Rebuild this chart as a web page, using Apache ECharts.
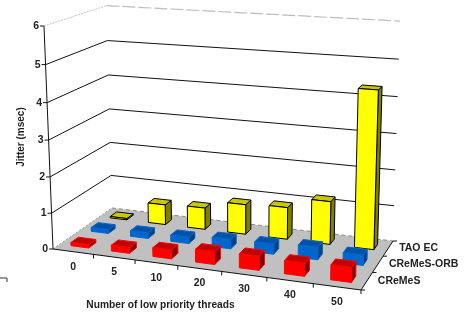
<!DOCTYPE html>
<html>
<head>
<meta charset="utf-8">
<style>html,body{margin:0;padding:0;background:#fff}#c{width:474px;height:320px}</style>
<script src="https://cdn.jsdelivr.net/npm/echarts@6/dist/echarts.min.js"></script>
</head>
<body>
<div id="c"></div>
<script>
// Jitter per thread load, three event services.
const threads = ['0', '5', '10', '20', '30', '40', '50'];
const services = ['CReMeS', 'CReMeS-ORB', 'TAO EC'];
const cremes = [0.09, 0.16, 0.24, 0.35, 0.38, 0.35, 0.39];
const cremesOrb = [0.11, 0.16, 0.18, 0.26, 0.28, 0.34, 0.28];
const taoEc = [0.04, 0.58, 0.62, 0.85, 0.9, 1.2, 4.33];
const jitterTicks = [0, 1, 2, 3, 4, 5, 6];
const jitterMax = 6;

const W = 474, H = 320;

// Perspective camera: floor corners and the point where verticals converge.
const floor = { fl: [53, 249], fr: [361, 290], br: [393, 241], bl: [112, 208] };
const vanish = [242.6, 4941];
const ceilingFL = 26;

function floorHomography(q) {
  const dx1 = q.fr[0] - q.br[0], dx2 = q.bl[0] - q.br[0];
  const dy1 = q.fr[1] - q.br[1], dy2 = q.bl[1] - q.br[1];
  const sx = q.fl[0] - q.fr[0] + q.br[0] - q.bl[0];
  const sy = q.fl[1] - q.fr[1] + q.br[1] - q.bl[1];
  const d = dx1 * dy2 - dx2 * dy1;
  const g = (sx * dy2 - dx2 * sy) / d;
  const h = (dx1 * sy - sx * dy1) / d;
  return [
    q.fr[0] - q.fl[0] + g * q.fr[0], q.bl[0] - q.fl[0] + h * q.bl[0], q.fl[0],
    q.fr[1] - q.fl[1] + g * q.fr[1], q.bl[1] - q.fl[1] + h * q.bl[1], q.fl[1],
    g, h, 1
  ];
}
const M = floorHomography(floor);
const k = (ceilingFL - floor.fl[1]) / (jitterMax * (vanish[1] - ceilingFL));

function project(u, v, z) {
  const w = M[6] * u + M[7] * v + 1 + z * k;
  return [
    (M[0] * u + M[1] * v + M[2] + z * k * vanish[0]) / w,
    (M[3] * u + M[4] * v + M[5] + z * k * vanish[1]) / w
  ];
}

const poly = (points, style) => ({ type: 'polygon', shape: { points }, style });
const line = (a, b, stroke, lineWidth, lineDash) => ({
  type: 'line',
  shape: { x1: a[0], y1: a[1], x2: b[0], y2: b[1] },
  style: { stroke, lineWidth: lineWidth || 1, lineDash: lineDash || null, fill: null }
});
const text = (s, x, y, align, size) => ({
  type: 'text',
  style: {
    text: s, x, y, fill: '#222',
    font: 'bold ' + (size || 10.5) + 'px "Liberation Sans", Arial, sans-serif',
    textAlign: align, textVerticalAlign: 'middle'
  }
});

// Box for one bar: the hidden cartesian axes supply u and height, depth comes from the row.
function boxRenderer(row, colors) {
  return function (params, api) {
    const c = api.coord([api.value(0), api.value(1)]);
    const band = api.size([1, 0])[0] / W;
    const u = c[0] / W;
    const z = jitterMax * (H - c[1]) / H;
    const v = (row + 0.5) / 3;
    const hu = band * 0.22, hv = 0.06;
    const p = (a, b, h) => project(u + a * hu, v + b * hv, h);
    const edge = { stroke: colors.edge, lineWidth: 1, lineJoin: 'round' };
    return {
      type: 'group',
      children: [
        poly([p(1, -1, 0), p(1, 1, 0), p(1, 1, z), p(1, -1, z)], { fill: colors.side, ...edge }),
        poly([p(-1, -1, z), p(1, -1, z), p(1, 1, z), p(-1, 1, z)], { fill: colors.top, ...edge }),
        poly([p(-1, -1, 0), p(1, -1, 0), p(1, -1, z), p(-1, -1, z)], { fill: colors.front, ...edge })
      ]
    };
  };
}

// Floor, back walls and value gridlines with their tick labels.
function frameRenderer(params, api) {
  const c = api.coord([0, api.value(0)]);
  const z = jitterMax * (H - c[1]) / H;
  const a = project(0, 0, z), b = project(0, 1, z), d = project(1, 1, z);
  const children = [];
  if (z === 0) {
    children.push(poly([project(0, 0, 0), project(1, 0, 0), project(1, 1, 0), project(0, 1, 0)], { fill: '#c0c0c0' }));
    children.push(line(a, b, '#999', 1, [2, 2]));
    children.push(line(b, d, '#8a8a8a', 1, [4, 3]));
  } else if (z === jitterMax) {
    children.push(line(a, b, '#c4c4c4', 1, [2, 1]));
    children.push(line(b, d, '#bdbdbd', 1.2, [13, 3]));
  } else {
    children.push(line(a, b, '#111'));
    children.push(line(b, d, '#111'));
  }
  children.push(line([a[0] - 4, a[1]], a, '#111'));
  children.push(text(String(api.value(0)), a[0] - 5, a[1], 'right'));
  return { type: 'group', children };
}

// Front edge ticks and category labels.
function threadAxisRenderer(params, api) {
  const c = api.coord([api.value(0), 0]);
  const band = api.size([1, 0])[0] / W;
  const u = c[0] / W;
  const lab = project(u, 0, 0);
  const t = project(u + band / 2, 0, 0);
  return {
    type: 'group',
    children: [
      line(t, [t[0], t[1] + 4], '#111'),
      text(threads[api.value(0)], lab[0], lab[1] + 15, 'center')
    ]
  };
}

// Right edge ticks and service names.
function serviceAxisRenderer(params, api) {
  const row = api.value(0);
  const v = (row + 0.5) / 3;
  const lab = project(1, v, 0);
  const t = project(1, row / 3, 0);
  return {
    type: 'group',
    children: [
      line(t, [t[0] + 4, t[1]], '#111'),
      text(services[row], lab[0] + 11, lab[1], 'left')
    ]
  };
}

function outlineRenderer(params, api) {
  return {
    type: 'group',
    children: [
      line(project(0, 0, 0), project(1, 0, 0), '#111'),
      line(project(1, 0, 0), project(1, 1, 0), '#111'),
      line(project(0, 0, 0), project(0, 0, jitterMax), '#111'),
      line(project(1, 1, 0), [project(1, 1, 0)[0] + 4, project(1, 1, 0)[1]], '#111')
    ]
  };
}

const series = [
  { type: 'custom', renderItem: frameRenderer, data: jitterTicks.map(t => [t]), silent: true },
  { type: 'custom', renderItem: outlineRenderer, data: [[0]], silent: true },
  { type: 'custom', renderItem: threadAxisRenderer, data: threads.map((_, i) => [i]), silent: true },
  { type: 'custom', renderItem: serviceAxisRenderer, data: services.map((_, i) => [i]), silent: true },
  {
    type: 'custom', name: services[2], data: taoEc.map((y, i) => [i, y]),
    renderItem: boxRenderer(2, { front: '#ffff00', top: '#c8c800', side: '#808000', edge: '#000' })
  },
  {
    type: 'custom', name: services[1], data: cremesOrb.map((y, i) => [i, y]),
    renderItem: boxRenderer(1, { front: '#0066cc', top: '#0052a8', side: '#003f80', edge: '#0066cc' })
  },
  {
    type: 'custom', name: services[0], data: cremes.map((y, i) => [i, y]),
    renderItem: boxRenderer(0, { front: '#ff0000', top: '#c00000', side: '#800000', edge: '#ff0000' })
  }
];

const chart = echarts.init(document.getElementById('c'), null, { renderer: 'canvas' });
chart.setOption({
  animation: false,
  backgroundColor: '#fff',
  grid: { left: 0, top: 0, width: W, height: H },
  xAxis: { type: 'category', data: threads, show: false },
  yAxis: { type: 'value', min: 0, max: jitterMax, interval: 1, show: false },
  series,
  graphic: [
    {
      type: 'text', x: 160.5, y: 305,
      style: { text: 'Number of low priority threads', fill: '#222', font: 'bold 10.2px "Liberation Sans", Arial, sans-serif', textAlign: 'center', textVerticalAlign: 'middle' }
    },
    {
      type: 'text', x: 21, y: 137, rotation: Math.PI / 2,
      style: { text: 'Jitter (msec)', fill: '#222', font: 'bold 10px "Liberation Sans", Arial, sans-serif', textAlign: 'center', textVerticalAlign: 'middle' }
    },
    {
      type: 'polyline', shape: { points: [[0, 278], [7, 278], [7, 282]] },
      style: { stroke: '#333', lineWidth: 1, fill: null }
    }
  ]
});
</script>
</body>
</html>
